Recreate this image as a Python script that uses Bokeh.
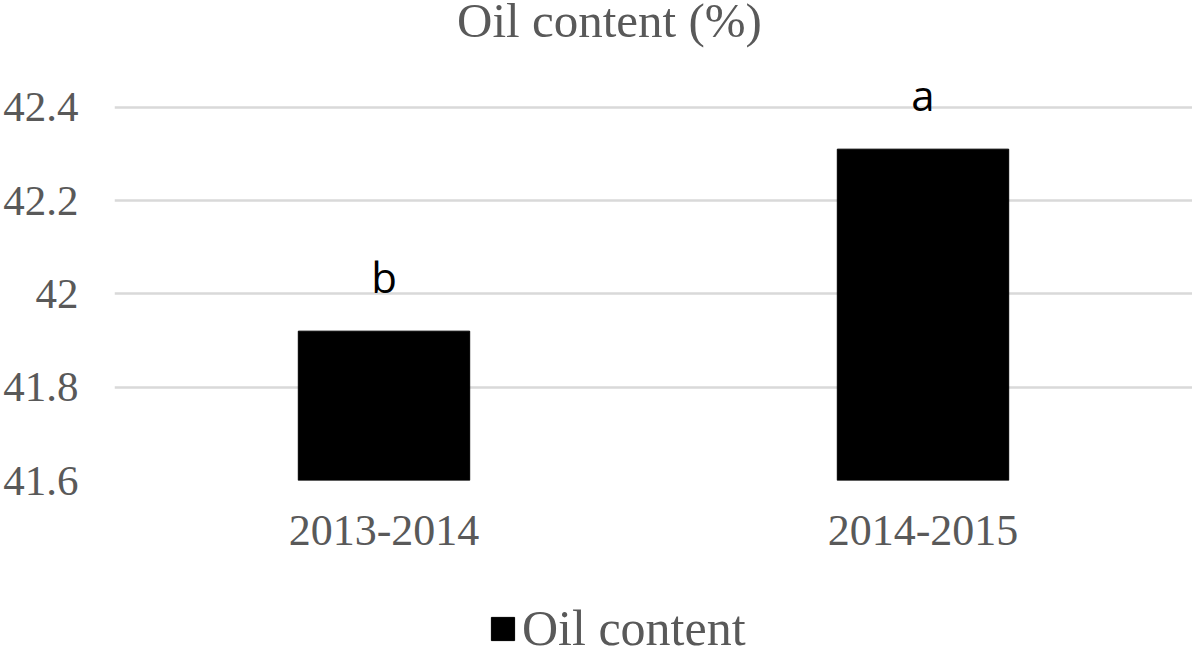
from bokeh.plotting import figure
from bokeh.layouts import column
from bokeh.models import ColumnDataSource, FixedTicker, NumeralTickFormatter, Legend, LegendItem, Label
from bokeh.core.properties import value
from bokeh.embed import file_html
from bokeh.resources import INLINE

# ---- data ----
seasons = ["2013-2014", "2014-2015"]
oil_content = [41.92, 42.31]
letters = ["b", "a"]
y_ticks = [41.6, 41.8, 42.0, 42.2, 42.4]
y_tick_labels = ["41.6", "41.8", "42", "42.2", "42.4"]
title_text = "Oil content (%)"
series_name = "Oil content"
y_base = 41.6
y_top = 42.5

GRAY = "#595959"
SERIF = "Liberation Serif"

src = ColumnDataSource(dict(x=seasons, top=oil_content, lab=letters))


def strip(h):
    f = figure(x_range=seasons, y_range=(y_base, y_top),
               width=1192, height=h, output_backend="svg", toolbar_location=None,
               x_axis_location=None, y_axis_location=None,
               min_border_left=107, min_border_right=0, min_border_top=0, min_border_bottom=0)
    f.outline_line_color = None
    f.grid.grid_line_color = None
    return f


# ---- title strip ----
tp = strip(60)
tp.add_layout(Label(x=495, y=40, x_units="screen", y_units="screen", text=title_text,
                    text_align="center", text_baseline="alphabetic",
                    text_font=SERIF, text_font_size="49px", text_color=GRAY))

# ---- main chart ----
p = figure(
    x_range=seasons, y_range=(y_base, y_top),
    width=1192, height=516,
    output_backend="svg", toolbar_location=None,
    min_border_left=107, min_border_right=0,
    min_border_top=0, min_border_bottom=96,
)
p.outline_line_color = None
p.background_fill_color = "white"
p.border_fill_color = "white"

bars = p.vbar(x="x", top="top", bottom=y_base, width=0.318, source=src,
              fill_color="black", line_color="black")

p.text(x="x", y="top", text="lab", source=src, y_offset=-55,
       text_align="center", text_baseline="alphabetic",
       text_font=value("Open Sans"), text_font_size="42px", text_color="black")

p.yaxis.ticker = FixedTicker(ticks=y_ticks)
p.yaxis.formatter = NumeralTickFormatter(format="0.[0]")
p.yaxis.major_label_overrides = {t: l for t, l in zip(y_ticks, y_tick_labels)}
for ax in (p.xaxis, p.yaxis):
    ax.axis_line_color = None
    ax.major_tick_line_color = None
    ax.minor_tick_line_color = None
    ax.major_label_text_font = SERIF
    ax.major_label_text_color = GRAY
p.yaxis.major_label_text_font_size = "43px"
p.xaxis.major_label_text_font_size = "44px"
p.yaxis.major_label_standoff = 30
p.xaxis.major_label_standoff = 29

p.xgrid.grid_line_color = None
p.ygrid.ticker = FixedTicker(ticks=y_ticks)
p.ygrid.grid_line_color = "#d9d9d9"
p.ygrid.grid_line_width = 2.5

# ---- legend strip ----
lp = strip(70)
leg_r = lp.vbar(x="x", top="top", bottom=y_base, width=0.318, source=src,
                fill_color="black", line_color="black", visible=False)
legend = Legend(items=[LegendItem(label=series_name, renderers=[leg_r])],
                orientation="horizontal", location=(374, -11))
legend.border_line_color = None
legend.background_fill_alpha = 0
legend.inactive_fill_alpha = 0
legend.label_text_font = SERIF
legend.label_text_font_size = "50px"
legend.label_text_color = GRAY
legend.glyph_width = 29
legend.glyph_height = 29
legend.label_standoff = 5
legend.padding = 0
legend.margin = 0
lp.add_layout(legend)

layout = column(tp, p, lp, spacing=0)
open("out.html", "w").write(file_html(layout, INLINE))
